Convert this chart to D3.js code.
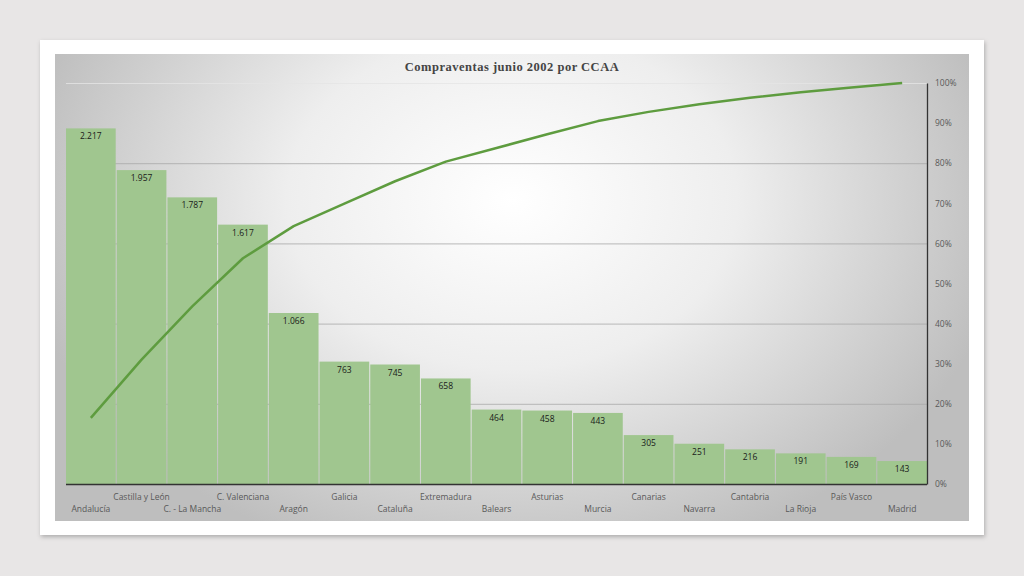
<!DOCTYPE html>
<html>
<head>
<meta charset="utf-8">
<script src="https://cdn.jsdelivr.net/npm/d3@7"></script>
<style>
  body { margin: 0; background: #e8e6e6; }
  svg { display: block; }
</style>
</head>
<body>
<svg id="pareto" width="1024" height="576"></svg>
<script>
// Data
var regions = ["Andalucía", "Castilla y León", "C. - La Mancha", "C. Valenciana", "Aragón", "Galicia",
    "Cataluña", "Extremadura", "Balears", "Asturias", "Murcia", "Canarias", "Navarra", "Cantabria",
    "La Rioja", "País Vasco", "Madrid"];
var sales = [2217, 1957, 1787, 1617, 1066, 763, 745, 658, 464, 458, 443, 305, 251, 216, 191, 169, 143];
var cumPct = [16.5, 31.0, 44.3, 56.3, 64.3, 69.9, 75.5, 80.4, 83.8, 87.2, 90.5, 92.8, 94.7, 96.3, 97.7, 98.9, 100];
var pctTicks = [0, 10, 20, 30, 40, 50, 60, 70, 80, 90, 100];
var gridValues = [500, 1000, 1500, 2000, 2500];

var svg = d3.select('#pareto');

// Card with shadow
var defs = svg.append("defs");
var shadow = defs.append("filter").attr("id", "shadow").attr("x", "-5%").attr("y", "-5%").attr("width", "110%").attr("height", "115%");
shadow.append("feDropShadow").attr("dx", 1).attr("dy", 2).attr("stdDeviation", 2).attr("flood-color", "#000").attr("flood-opacity", 0.25);

// Gray background, light in the upper middle, darker towards the sides
var bg = defs.append("radialGradient").attr("id", "bg")
    .attr("gradientUnits", "userSpaceOnUse")
    .attr("cx", 512).attr("cy", 200).attr("r", 500)
    .attr("gradientTransform", "translate(512,200) scale(1,0.75) translate(-512,-200)");
bg.append("stop").attr("offset", "0%").attr("stop-color", "#ffffff");
bg.append("stop").attr("offset", "45%").attr("stop-color", "#eeeeee");
bg.append("stop").attr("offset", "100%").attr("stop-color", "#bebebe");

svg.append("rect").attr("x", 40).attr("y", 40).attr("width", 944).attr("height", 495)
    .attr("fill", "#fff").attr("filter", "url(#shadow)");
svg.append("rect").attr("x", 55).attr("y", 54).attr("width", 914).attr("height", 467)
    .attr("fill", "url(#bg)");

// Plot area
var margin = { left: 66, right: 927, top: 83, bottom: 484 };

var x = d3.scaleBand()
    .domain(regions)
    .range([margin.left, margin.right])
    .paddingInner(0.02);

var y = d3.scaleLinear().domain([0, 2500]).range([margin.bottom, margin.top]);
var yPct = d3.scaleLinear().domain([0, 100]).range([margin.bottom, margin.top]);

// Title
svg.append("text")
    .attr("x", 512).attr("y", 71)
    .attr("text-anchor", "middle")
    .attr("font-family", "Liberation Serif, serif")
    .attr("font-weight", "bold")
    .attr("font-size", 12.5)
    .attr("letter-spacing", 0.5)
    .attr("fill", "#444")
    .text("Compraventas junio 2002 por CCAA");

// Gridlines from the hidden primary axis
svg.append("g")
    .selectAll("line")
    .data(gridValues)
    .enter().append("line")
    .attr("x1", margin.left).attr("x2", margin.right)
    .attr("y1", function (d) { return y(d) + 0.5; })
    .attr("y2", function (d) { return y(d) + 0.5; })
    .attr("stroke", function (d) { return d === 2500 ? "#e4e4e4" : "#a8a8a8"; })
    .attr("stroke-width", 0.8);

// Bars
svg.append("g")
    .selectAll("rect")
    .data(sales)
    .enter().append("rect")
    .attr("x", function (d, i) { return x(regions[i]); })
    .attr("y", function (d) { return y(d); })
    .attr("width", x.bandwidth())
    .attr("height", function (d) { return y(0) - y(d); })
    .attr("fill", "#a0c68f");

// Bar value labels
svg.append("g")
    .attr("font-family", "Open Sans, sans-serif")
    .attr("font-size", 8.5)
    .attr("fill", "#1a1a1a")
    .attr("text-anchor", "middle")
    .selectAll("text")
    .data(sales)
    .enter().append("text")
    .attr("x", function (d, i) { return x(regions[i]) + x.bandwidth() / 2; })
    .attr("y", function (d) { return y(d) + 11; })
    .text(function (d) { return d3.format(",")(d).replace(",", "."); });

// Cumulative line
var line = d3.line()
    .x(function (d, i) { return x(regions[i]) + x.bandwidth() / 2; })
    .y(function (d) { return yPct(d); });

svg.append("path")
    .datum(cumPct)
    .attr("d", line)
    .attr("fill", "none")
    .attr("stroke", "#5e9c3f")
    .attr("stroke-width", 2.5)
    .attr("stroke-linejoin", "round");

// Bottom axis line
svg.append("line")
    .attr("x1", margin.left).attr("x2", margin.right)
    .attr("y1", margin.bottom + 0.5).attr("y2", margin.bottom + 0.5)
    .attr("stroke", "#333").attr("stroke-width", 1.3);

// Category labels, alternating rows
svg.append("g")
    .attr("font-family", "Open Sans, sans-serif")
    .attr("font-size", 8.5)
    .attr("fill", "#595959")
    .attr("text-anchor", "middle")
    .selectAll("text")
    .data(regions)
    .enter().append("text")
    .attr("x", function (d) { return x(d) + x.bandwidth() / 2; })
    .attr("y", function (d, i) { return i % 2 === 0 ? 512 : 500; })
    .text(function (d) { return d; });

// Right percentage axis
var right = svg.append("g")
    .attr("transform", "translate(" + margin.right + ",0)")
    .call(d3.axisRight(yPct).tickValues(pctTicks).tickSize(0).tickPadding(8)
        .tickFormat(function (d) { return d + "%"; }));

right.select(".domain").attr("stroke", "#333").attr("stroke-width", 1.3);
right.selectAll(".tick text")
    .attr("font-family", "Open Sans, sans-serif")
    .attr("font-size", 8.5)
    .attr("fill", "#595959");
</script>
</body>
</html>
